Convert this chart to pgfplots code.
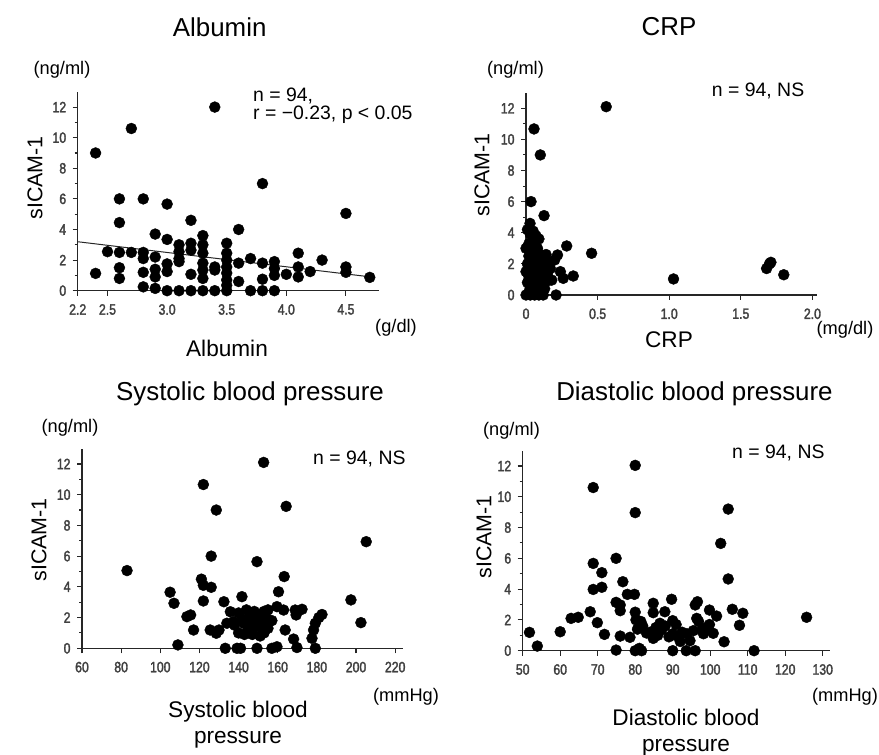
\documentclass[border=0pt]{standalone}
\usepackage{fontspec}
\setmainfont{Liberation Sans}
\newfontfamily\tickfont[FakeStretch=0.82,FakeBold=2]{Liberation Sans}
\usepackage{pgfplots}
\pgfplotsset{compat=1.18}

\pgfplotsset{
  panel/.style={
    scale only axis, anchor=south west, clip=false,
    axis x line*=bottom, axis y line*=left,
    tick align=outside, major tick length=5bp, minor tick length=3bp,
    ymin=0, ymax=13, ytick={0,2,...,12}, minor y tick num=1,
    axis line style={line width=1.4pt, black!85},
    tick style={line width=1.1pt, black!85},
    every tick label/.append style={font=\fontsize{15}{16}\selectfont\tickfont, text=black!75},
    xticklabel style={yshift=-5bp},
    yticklabel style={xshift=-3bp},
    /pgf/number format/assume math mode=true,
  },
  dots/.style={only marks, mark=*, mark size=5.5pt, black},
}
\newcommand\ttl{\fontsize{26}{30}\selectfont}
\newcommand\lab{\fontsize{22.7}{26}\selectfont}
\newcommand\unit{\fontsize{18.3}{20}\selectfont}
\newcommand\ann{\fontsize{19.5}{22}\selectfont}

\begin{document}
\begin{tikzpicture}[x=1bp,y=1bp]
\path[use as bounding box] (0,0) rectangle (879,755);

% Albumin
\begin{axis}[panel, at={(77.7bp,464.3bp)}, width=301.6bp, height=198.9bp,
  xmin=2.25, xmax=4.78, xtick={2.25,2.5,3,3.5,4,4.5},
  xticklabels={2.2,2.5,3.0,3.5,4.0,4.5}]
\addplot[dots] coordinates {
 (2.4,1.13) (2.4,9.0) (2.7,10.6) (2.5,2.55) (2.6,6.0) (2.6,4.45) (2.6,2.5)
 (2.6,1.5) (2.6,0.8) (2.7,2.5) (2.8,6.0) (2.8,2.5) (2.8,2.1) (2.8,1.2)
 (2.8,0.25) (2.9,3.7) (2.9,2.2) (2.9,1.4) (2.9,0.9) (2.9,0.15) (3.0,5.66)
 (3.0,3.35) (3.0,1.75) (3.0,1.25) (3.0,0) (3.1,3.0) (3.1,2.55) (3.1,2.1)
 (3.1,1.9) (3.1,0) (3.2,4.6) (3.2,3.1) (3.2,2.65) (3.2,1.07) (3.2,0)
 (3.3,3.6) (3.3,3.0) (3.3,2.45) (3.3,1.8) (3.3,1.35) (3.3,0.8) (3.3,0)
 (3.4,12.0) (3.4,1.55) (3.4,1.35) (3.4,0) (3.5,3.1) (3.5,2.45) (3.5,2.0)
 (3.5,1.55) (3.5,1.15) (3.5,0.7) (3.5,0.35) (3.5,0) (3.6,4.0) (3.6,1.8)
 (3.6,0.6) (3.7,2.1) (3.7,0) (3.8,7.0) (3.8,1.8) (3.8,0.75) (3.8,0)
 (3.9,1.9) (3.9,1.45) (3.9,1.0) (3.9,0) (4.0,1.07) (4.1,2.45) (4.1,1.55)
 (4.1,0.9) (4.2,1.25) (4.3,2.0) (4.5,5.05) (4.5,1.55) (4.5,1.2) (4.7,0.87)
};
\addplot[black!85, line width=1pt] coordinates {(2.25,3.2) (4.74,0.87)};
\end{axis}

% CRP
\begin{axis}[panel, at={(526bp,460bp)}, width=290.7bp, height=202.3bp,
  xmin=0, xmax=2.03, xtick={0,0.5,1,1.5,2},
  xticklabels={0,0.5,1.0,1.5,2.0}]
\addplot[dots] coordinates {
 (0.56,12.1) (0.056,10.67) (0.10,9.0) (0.035,6.0) (0.126,5.1) (0.028,4.6)
 (0.284,3.15) (0.458,2.68) (0.22,2.57) (0.2,2.25) (0.24,1.5) (0.26,1.07)
 (0.33,1.22) (0.18,0.96) (0.21,0) (1.03,1.03) (1.68,1.7) (1.70,2.0)
 (1.71,2.1) (1.80,1.3)
 (0.01,4.2) (0.03,3.9) (0.05,4.1) (0.07,3.8) (0.09,3.6) (0.02,3.3) (0.06,3.5)
 (0.0,3.0) (0.04,2.8) (0.08,3.0) (0.1,2.6) (0.12,2.4) (0.14,2.2) (0.02,2.5)
 (0.06,2.3) (0.09,2.0) (0.11,1.9) (0.13,1.6) (0.01,2.0) (0.04,1.8) (0.07,1.5)
 (0.1,1.3) (0.12,1.1) (0.15,1.4) (0.02,1.2) (0.05,1.0) (0.08,0.8) (0.11,0.6)
 (0.03,0.5) (0.06,0.3) (0.09,0.2) (0.13,0.4) (0.0,0.0) (0.03,0.0) (0.06,0.0)
 (0.09,0.0) (0.12,0.0) (0.01,0.8) (0.04,1.4) (0.16,2.0) (0.17,1.7) (0.14,2.6)
 (0.15,0.9) (0.05,2.1) (0.08,1.2) (0.0,1.5) (0.02,0.2) (0.07,0.6)
};
\end{axis}

% Systolic
\begin{axis}[panel, at={(82bp,106.7bp)}, width=321bp, height=199.7bp,
  xmin=60, xmax=224, xtick={60,80,...,220}]
\addplot[dots] coordinates {
 (83,5.06) (109,0.22) (105,3.65) (107,2.93) (113.6,2.06) (115.5,2.17)
 (117,1.19) (122,10.66) (128.6,9.0) (126,6.0) (121,4.5) (122,4.1) (126,3.97)
 (122,3.08) (125.5,1.19) (128.6,0.98) (130,1.19) (132.5,3.03) (135.8,2.38)
 (134,1.63) (137.4,1.73) (133.2,0) (139.2,0) (141,0) (149.4,0) (157,0)
 (141.7,3.36) (140,2.3) (142,1.9) (143,1.6) (144,2.5) (145,1.2) (146,2.1)
 (147,1.7) (148,2.4) (149,1.4) (150,1.9) (151,2.2) (152,1.6) (153,1.0)
 (154,2.0) (155,1.3) (156,1.8) (147,0.9) (143,0.9) (145,1.5) (151,0.8)
 (153,2.4) (140,1.0) (138,1.5) (155,2.5) (157,1.8) (152,1.3)
 (152.8,12.1) (149.4,5.64) (160.4,3.68) (159.6,2.71) (163,2.49) (163.8,1.19)
 (163.3,4.67) (164.3,9.24) (159.6,0.1) (168.9,2.49) (172.4,2.54) (169.4,2.17)
 (168.1,0.6) (169.8,0.05) (179.2,1.63) (178.3,1.19) (177.5,0.65) (179.2,0)
 (182.6,2.2) (181,2.0) (197.4,3.15) (202.5,1.67) (205.2,6.94)
};
\end{axis}

% Diastolic
\begin{axis}[panel, at={(522.7bp,104.3bp)}, width=307.5bp, height=200.1bp,
  xmin=50, xmax=132, xtick={50,60,...,130}]
\addplot[dots] coordinates {
 (51.8,1.19) (53.9,0.3) (60,1.23) (62.9,2.1) (64.8,2.17) (68,2.53)
 (68.8,10.6) (68.8,5.67) (68.8,3.98) (69.9,1.82) (71.1,5.07) (71.1,4.12)
 (71.8,1.06) (74.9,6.0) (74.9,3.14) (76,2.97) (76,2.6) (74.9,0.04)
 (76.7,4.48) (76,0.95) (77.9,3.66) (79.8,3.66) (78.6,0.87) (80,12.04)
 (80,8.97) (80,2.5) (80.2,2.0) (80.6,1.4) (81.5,1.9) (82,1.6) (80,0)
 (81.1,0.15) (81.7,0) (83,1.15) (84,1.2) (84.8,3.08) (84.8,2.47) (84.8,0.8)
 (86,1.0) (86.6,1.78) (87,1.34) (87.9,2.53) (89.7,3.34) (90,0) (90,1.95)
 (90.9,1.7) (90,1.1) (91.2,0.95) (92.5,1.2) (93.8,1.1) (93.6,0) (96,0)
 (94.6,0.65) (95.5,1.3) (96,2.97) (96.6,3.18) (96.4,2.1) (96.9,1.9)
 (97.8,1.35) (98.2,1.1) (98.9,1.5) (99.8,1.7) (99.8,2.64) (101.7,2.25)
 (100.8,1.13) (102.8,6.97) (103.7,0.58) (104.8,9.2) (104.8,4.66) (105.9,2.69)
 (107.8,1.65) (108.7,2.43) (111.7,0) (125.7,2.17) (88,1.6) (85.5,1.5)
 (92,0.6) (89,0.9)
};
\end{axis}

% titles
\node[inner sep=0] at (219.7,727.5) {\ttl Albumin};
\node[inner sep=0] at (669,728) {\ttl CRP};
\node[inner sep=0] at (250,361) {\ttl Systolic blood pressure};
\node[inner sep=0] at (694.5,361) {\ttl Diastolic blood pressure};
% x labels
\node[inner sep=0] at (227,407) {\lab Albumin};
\node[inner sep=0] at (669,415) {\lab CRP};
\node[inner sep=0, align=center, font=\lab] at (238,30) {Systolic blood\\pressure};
\node[inner sep=0, align=center, font=\lab] at (686,22.5) {Diastolic blood\\pressure};
% units
\node[inner sep=0] at (396,427) {\unit (g/dl)};
\node[inner sep=0] at (845,425) {\unit (mg/dl)};
\node[inner sep=0] at (406,58) {\unit (mmHg)};
\node[inner sep=0] at (845,58) {\unit (mmHg)};
\node[inner sep=0] at (62,685) {\unit (ng/ml)};
\node[inner sep=0] at (515.5,685) {\unit (ng/ml)};
\node[inner sep=0] at (70,327) {\unit (ng/ml)};
\node[inner sep=0] at (511.5,324) {\unit (ng/ml)};
% y labels
\node[inner sep=0, rotate=90] at (35,577) {\fontsize{21.5}{24}\selectfont sICAM-1};
\node[inner sep=0, rotate=90] at (482,580) {\fontsize{21.5}{24}\selectfont sICAM-1};
\node[inner sep=0, rotate=90] at (39,215) {\fontsize{21.5}{24}\selectfont sICAM-1};
\node[inner sep=0, rotate=90] at (484,218) {\fontsize{21.5}{24}\selectfont sICAM-1};
% annotations
\node[inner sep=0, anchor=west] at (253,659) {\ann n = 94,};
\node[inner sep=0, anchor=west] at (253,640) {\ann r = −0.23, p < 0.05};
\node[inner sep=0, anchor=west] at (711.7,664) {\ann n = 94, NS};
\node[inner sep=0, anchor=west] at (313,296) {\ann n = 94, NS};
\node[inner sep=0, anchor=west] at (732,302) {\ann n = 94, NS};
\end{tikzpicture}
\end{document}
